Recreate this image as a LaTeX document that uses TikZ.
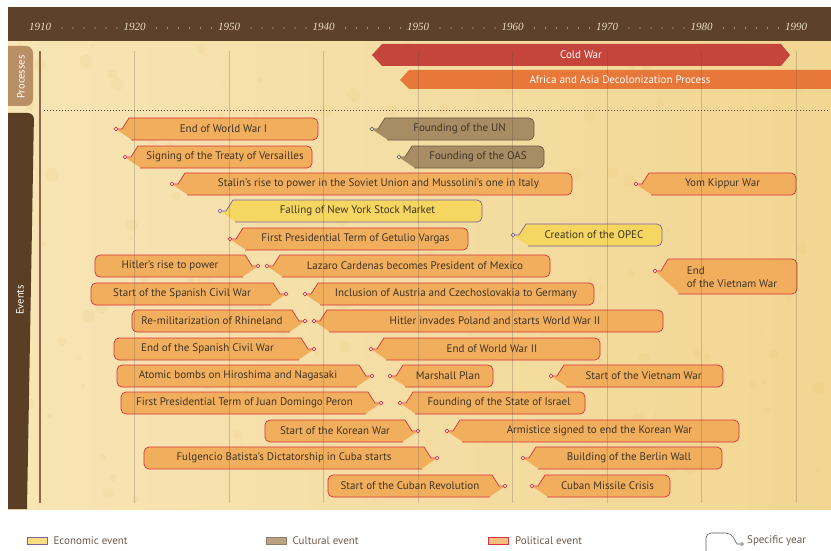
\documentclass[tikz,border=0pt]{standalone}
\usepackage{fontspec}
\setmainfont{PT Sans}
\newfontfamily\yearfont{Liberation Serif}
\usetikzlibrary{positioning}
\definecolor{barbrown}{HTML}{5D4229}
\definecolor{tabdark}{HTML}{5A3F25}
\definecolor{tablight}{HTML}{B98F66}
\definecolor{rulebrown}{HTML}{8B6A45}
\definecolor{parchlight}{HTML}{F7E5B5}
\definecolor{parchdark}{HTML}{F2D692}
\definecolor{stain}{HTML}{E2B44E}
\definecolor{yearink}{HTML}{EADCC2}
\definecolor{coldred}{HTML}{C5443C}
\definecolor{decoorange}{HTML}{E8773A}
\definecolor{polfill}{HTML}{F1AF5D}
\definecolor{polline}{HTML}{D8323F}
\definecolor{ecofill}{HTML}{F5D660}
\definecolor{ecoline}{HTML}{7D5FA6}
\definecolor{culfill}{HTML}{A88C63}
\definecolor{culline}{HTML}{6E5C46}
\definecolor{evink}{HTML}{3F3326}
\definecolor{gridink}{HTML}{5A4A3A}
\definecolor{legink}{HTML}{6D5A4B}
\definecolor{legicon}{HTML}{5A5A5A}
\begin{document}
\begin{tikzpicture}[x=1pt, y=-1pt,
    pol/.style={fill=polfill}, pol/line/.style={draw=polline, line width=0.7pt},
    eco/.style={fill=ecofill}, eco/line/.style={draw=ecoline, line width=0.7pt},
    cul/.style={fill=culfill}, cul/line/.style={draw=culline, line width=0.7pt},
    evtext/.style={text=evink, font=\fontsize{11}{13}\selectfont, inner sep=0pt},
    yr/.style={circle, fill=white, inner sep=0pt, minimum size=3.6pt, line width=0.5pt},
    year/.style={text=yearink, font=\yearfont\itshape\fontsize{11}{12}\selectfont, inner sep=0pt},
    tab/.style={text=white, rotate=90, font=\fontsize{10.5}{12}\selectfont, inner sep=0pt},
    bartext/.style={text=white, font=\fontsize{11}{12}\selectfont, inner sep=0pt},
    gridline/.style={draw=gridink, opacity=0.25, line width=0.6pt},
    legbox/.style={rectangle, minimum width=20pt, minimum height=7pt, inner sep=0pt, line width=0.8pt},
    legend/.style={anchor=west, text=legink, font=\fontsize{11}{12}\selectfont, inner sep=0pt},
  ]
  \useasboundingbox[fill=white] (0,0) rectangle (831,551);
  \shade[left color=parchlight, right color=parchdark] (8,41) rectangle (831,509);
  \pgfmathsetseed{11}
  \foreach \k in {1,...,160}
    \fill[stain, opacity=0.09] ({12+rnd*815},{45+rnd*460}) circle ({(1+rnd*6)*1pt});
  \fill[barbrown] (8,7) rectangle (831,41);
  \foreach \yr [count=\i from 0] in {1910,1920,1950,1940,1950,1960,1970,1980,1990}
    \node[year] (year\i) at (40+94.5*\i,27) {\yr};
  \foreach \i in {0,...,7}
    \foreach \j in {0,...,5}
      \fill[yearink] (62+94.5*\i+11*\j,28) circle (0.6pt);

  \fill[tablight] (8,106) -- (8,46) [rounded corners=7pt] -- (33,46) -- (33,106) [sharp corners] -- cycle;
  \node[tab] (processes) at (21,77) {Processes};
  \fill[tabdark] (8,509) -- (8,113) [rounded corners=6pt] -- (34,113) [sharp corners] -- (27,509) -- cycle;
  \node[tab] (events) at (20,300) {Events};
  \draw[rulebrown, line width=1.6pt] (40,51) -- (40,503);
  \draw[gridink, dash pattern=on 0.8pt off 2.2pt] (44,110) -- (829,110);

  \fill[coldred] (372,55) -- (382,44) -- (781,44) -- (790,55) -- (781,66) -- (382,66) -- cycle;
  \node[bartext] (coldwar) at (581,55) {Cold War};
  \fill[decoorange] (400,80) -- (409,70) -- (831,70) -- (831,89) -- (409,89) -- cycle;
  \node[bartext] (decol) at (620,80) {Africa and Asia Decolonization Process};

  \foreach \nm/\xa/\xb/\yy/\kind/\txt in {
      wwone/116/318/129/pol/{End of World War I},
      versailles/125/312/157/pol/{Signing of the Treaty of Versailles},
      stalin/172/572/184/pol/{Stalin’s rise to power in the Soviet Union and Mussolini’s one in Italy},
      crash/220/482/211/eco/{Falling of New York Stock Market},
      vargas/230/468/239/pol/{First Presidential Term of Getulio Vargas},
      un/372/534/129/cul/{Founding of the UN},
      oas/399/544/157/cul/{Founding of the OAS},
      yomkippur/636/796/184/pol/{Yom Kippur War},
      opec/513/662/235/eco/{Creation of the OPEC},
      cardenas/267/550/266/pol/{Lazaro Cardenas becomes President of Mexico},
      austria/305/594/294/pol/{Inclusion of Austria and Czechoslovakia to Germany},
      poland/314/663/321/pol/{Hitler invades Poland and starts World War II},
      wwtwo/371/600/349/pol/{End of World War II},
      marshall/390/493/376/pol/{Marshall Plan},
      vietnam/551/723/376/pol/{Start of the Vietnam War},
      israel/400/585/403/pol/{Founding of the State of Israel},
      armistice/447/739/431/pol/{Armistice signed to end the Korean War},
      berlin/523/722/458/pol/{Building of the Berlin Wall},
      missile/532/670/486/pol/{Cuban Missile Crisis}}{
    \fill[\kind] (\xa+1,\yy+1) -- (\xa+6,\yy) -- (\xa+13,\yy-11) [rounded corners=5pt] -- (\xb,\yy-11) -- (\xb,\yy+11) [sharp corners] -- (\xa+16,\yy+11) -- cycle;
    \node[yr, \kind/line] (\nm-yr) at (\xa,\yy) {};
    \draw[\kind/line] (\nm-yr) -- (\xa+6,\yy) -- (\xa+13,\yy-11) [rounded corners=5pt] -- (\xb,\yy-11) -- (\xb,\yy+11) -- (\xa+15,\yy+11);
    \node[evtext] (\nm) at ({(\xa+13+\xb)/2},\yy) {\txt};
  }

  \foreach \nm/\xa/\xb/\yy/\kind/\txt in {
      hitler/95/258/266/pol/{Hitler’s rise to power},
      spain/91/286/294/pol/{Start of the Spanish Civil War},
      rhine/132/305/321/pol/{Re-militarization of Rhineland},
      spainend/114/314/349/pol/{End of the Spanish Civil War},
      atomic/117/372/376/pol/{Atomic bombs on Hiroshima and Nagasaki},
      peron/121/381/403/pol/{First Presidential Term of Juan Domingo Peron},
      korea/265/418/431/pol/{Start of the Korean War},
      batista/144/437/458/pol/{Fulgencio Batista’s Dictatorship in Cuba starts},
      cuba/328/505/486/pol/{Start of the Cuban Revolution}}{
    \fill[\kind] (\xb-1,\yy+1) -- (\xb-6,\yy) -- (\xb-13,\yy-11) [rounded corners=5pt] -- (\xa,\yy-11) -- (\xa,\yy+11) [sharp corners] -- (\xb-16,\yy+11) -- cycle;
    \node[yr, \kind/line] (\nm-yr) at (\xb,\yy) {};
    \draw[\kind/line] (\nm-yr) -- (\xb-6,\yy) -- (\xb-13,\yy-11) [rounded corners=5pt] -- (\xa,\yy-11) -- (\xa,\yy+11) -- (\xb-15,\yy+11);
    \node[evtext] (\nm) at ({(\xa+\xb-13)/2},\yy) {\txt};
  }

  \fill[pol] (656,272) -- (661,271) -- (668,259) [rounded corners=5pt] -- (797,259) -- (797,294) [sharp corners] -- (680,294) -- cycle;
  \node[yr, pol/line] (vietend-yr) at (655,271) {};
  \draw[pol/line] (vietend-yr) -- (661,271) -- (668,259) [rounded corners=5pt] -- (797,259) -- (797,294) -- (678,294);
  \node[evtext, align=left] (vietend) at (732,277) {End\\of the Vietnam War};

  \foreach \i in {1,...,8}
    \draw[gridline] (40+94.5*\i,51) -- (40+94.5*\i,503);

  \node[legbox, fill=ecofill!80!white, draw=ecoline] (ecokey) at (37,540.5) {};
  \node[legend, right=6pt of ecokey] (ecolab) {Economic event};
  \node[legbox, fill=culfill!80!white, draw=culline!80!white] (culkey) at (276,540.5) {};
  \node[legend, right=6pt of culkey] (cullab) {Cultural event};
  \node[legbox, fill=polfill!80!white, draw=polline] (polkey) at (498.5,540.5) {};
  \node[legend, right=6pt of polkey] (pollab) {Political event};
  \node[yr, draw=legicon, minimum size=3pt] (keydot) at (742,544) {};
  \draw[legicon, line width=0.6pt] (706,553) [rounded corners=5pt] -- (706,533) -- (731,533) [sharp corners] -- (737,544) -- (keydot);
  \node[legend] (keylab) at (747,541) {Specific year};
\end{tikzpicture}
\end{document}
